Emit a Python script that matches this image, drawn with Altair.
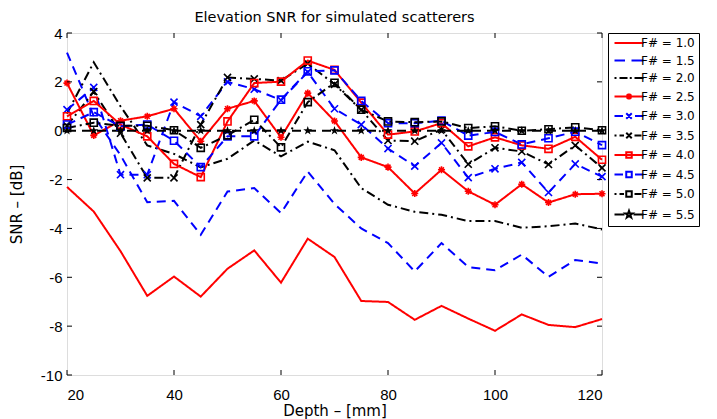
import altair as alt
import pandas as pd

# ---------------- data ----------------
depth = [20, 25, 30, 35, 40, 45, 50, 55, 60, 65, 70, 75, 80, 85, 90, 95, 100, 105, 110, 115, 120]

series_names = ["F# = 1.0", "F# = 1.5", "F# = 2.0", "F# = 2.5", "F# = 3.0",
                "F# = 3.5", "F# = 4.0", "F# = 4.5", "F# = 5.0", "F# = 5.5"]

snr_f10 = [-2.30, -3.31, -4.93, -6.76, -5.97, -6.79, -5.65, -4.90, -6.22, -4.42, -5.17,
           -6.97, -7.01, -7.74, -7.17, -7.69, -8.19, -7.52, -7.95, -8.04, -7.71]
snr_f15 = [3.20, 0.60, -1.00, -2.93, -2.87, -4.26, -2.49, -2.35, -3.37, -1.67, -3.00,
           -4.00, -4.60, -5.76, -4.60, -5.58, -5.71, -5.07, -5.98, -5.29, -5.44]
snr_f20 = [0.70, 2.80, 1.00, -0.60, -0.95, -1.50, -1.15, -0.40, -1.05, -0.45, -0.80,
           -2.35, -3.03, -3.32, -3.44, -3.70, -3.70, -3.97, -3.91, -3.80, -4.04]
snr_f25 = [1.95, -0.19, 0.41, 0.59, 0.90, -0.43, 0.90, 1.22, -0.27, 1.54, 0.40,
           -1.09, -1.49, -2.57, -1.60, -2.48, -3.03, -2.19, -2.94, -2.60, -2.58]
snr_f30 = [0.86, 1.77, -1.80, -1.80, 1.17, 0.59, 2.00, 1.70, 1.25, 2.40, 0.90,
           0.25, -0.73, -1.45, -0.50, -1.92, -1.56, -1.30, -2.53, -1.36, -1.88]
snr_f35 = [0.20, 1.60, -0.10, -1.93, -1.93, 0.25, 2.18, 2.12, 2.05, 2.75, 1.90,
           0.85, -0.40, -0.43, 0.05, -1.37, -0.70, -0.85, -1.38, -0.60, -1.52]
snr_f40 = [0.59, 1.22, 0.25, -0.23, -1.36, -1.90, 0.38, 1.95, 2.01, 2.87, 2.49,
           1.15, -0.16, -0.03, 0.31, -0.64, -0.27, -0.60, -0.74, -0.25, -1.19]
snr_f45 = [0.25, 0.76, 0.18, 0.25, -0.41, -1.49, -0.23, -0.23, 1.27, 2.43, 2.47,
           1.22, 0.31, 0.31, 0.41, -0.20, -0.05, -0.56, -0.31, -0.04, -0.59]
snr_f50 = [0.11, 0.33, 0.20, 0.20, 0.02, -0.70, -0.19, 0.45, -0.68, 1.17, 1.96,
           0.86, 0.38, 0.35, 0.38, 0.11, 0.18, 0.00, 0.06, 0.14, 0.02]
snr_f55 = [0.00, 0.00, 0.00, 0.00, 0.00, 0.00, 0.00, 0.00, 0.00, 0.00, 0.00,
           0.00, 0.00, 0.00, 0.00, 0.00, 0.00, 0.00, 0.00, 0.00, 0.00]

x_ticks = [20, 40, 60, 80, 100, 120]
y_ticks = [-10, -8, -6, -4, -2, 0, 2, 4]

all_series = [snr_f10, snr_f15, snr_f20, snr_f25, snr_f30,
              snr_f35, snr_f40, snr_f45, snr_f50, snr_f55]

# ---------------- styles ----------------
RED, BLUE, BLACK = "#ff0000", "#0000ff", "#000000"
line_colors = [RED, BLUE, BLACK, RED, BLUE, BLACK, RED, BLUE, BLACK, BLACK]
SOLID, DASH, DASHDOT = [1, 0], [9, 6], [9, 4, 2, 4]
line_dashes = [SOLID, DASH, DASHDOT, SOLID, DASH, DASHDOT, SOLID, DASH, DASHDOT, DASH]

P_AST = "M-1,0H1M0,-1V1M-0.7,-0.7L0.7,0.7M-0.7,0.7L0.7,-0.7"
P_X = "M-1,-1L1,1M-1,1L1,-1"
P_SQ = "M-1,-1H1V1H-1Z"
P_STAR = ("M0,-1L0.24,-0.33L0.95,-0.31L0.38,0.12L0.59,0.81L0,0.4"
          "L-0.59,0.81L-0.38,0.12L-0.95,-0.31L-0.24,-0.33Z")

marker_series = ["F# = 2.5", "F# = 3.0", "F# = 3.5", "F# = 4.0", "F# = 4.5", "F# = 5.0"]
marker_paths = [P_AST, P_X, P_X, P_SQ, P_SQ, P_SQ]

# legend symbols: line segments + marker; symbol size 100 -> 1 unit = 5 px
L_SOLID = "M-2.9,0H2.9"
L_DASH = "M-2.9,0H-0.8M0.5,0H2.9"
L_DASHDOT = "M-2.9,0H-2.5M-1.9,0H-0.3M0.15,0H0.55M1.1,0H2.9"
L_SOLID_M = "M-2.9,0H2.9"
L_DASH_M = "M-2.9,0H-1.2M1.2,0H2.9"
L_DASHDOT_M = "M-2.9,0H-2.5M-1.9,0H-1.0M1.1,0H2.5"
m_ast = "M-0.6,0H0.6M0,-0.6V0.6M-0.45,-0.45L0.45,0.45M-0.45,0.45L0.45,-0.45"
m_x = "M-0.55,-0.55L0.55,0.55M-0.55,0.55L0.55,-0.55"
m_sq = "M-0.55,-0.55H0.55V0.55H-0.55Z"
m_star = ("M0,-0.75L0.18,-0.25L0.71,-0.23L0.28,0.09L0.44,0.61L0,0.3"
          "L-0.44,0.61L-0.28,0.09L-0.71,-0.23L-0.18,-0.25Z")
legend_paths = [L_SOLID, L_DASH, L_DASHDOT,
                L_SOLID_M + m_ast, L_DASH_M + m_x, L_DASHDOT_M + m_x,
                L_SOLID_M + m_sq, L_DASH_M + m_sq, L_DASHDOT_M + m_sq,
                "M-2.9,0H-0.9M0.9,0H2.9" + m_star]

rows = []
for name, vals in zip(series_names, all_series):
    for d, v in zip(depth, vals):
        rows.append({"F": name, "depth": d, "snr": v})
df = pd.DataFrame(rows)

X0, X1, Y0, Y1 = 20, 120, -10, 4
W, H = 535, 342
xs = alt.Scale(domain=[X0, X1], nice=False, zero=False)
ys = alt.Scale(domain=[Y0, Y1], nice=False, zero=False)
FONT = "Liberation Sans"
TFONT = "DejaVu Sans"

x_enc = alt.X("depth:Q", scale=xs,
              axis=alt.Axis(values=x_ticks, ticks=False, domain=False, grid=False,
                            labelFontSize=15, labelPadding=12, labelFont=FONT,
                            labelColor="black", title="Depth – [mm]",
                            titleFontSize=15, titleFont=TFONT, titleFontWeight="normal",
                            titlePadding=1, titleColor="black"))
y_enc = alt.Y("snr:Q", scale=ys,
              axis=alt.Axis(values=y_ticks, ticks=False, domain=False, grid=False,
                            labelFontSize=15, labelPadding=5, labelFont=FONT,
                            labelColor="black",
                            labelExpr="datum.value < 0 ? '-' + abs(datum.value) : '' + datum.value",
                            title="SNR – [dB]", titleFontSize=15, titleFont=TFONT,
                            titleFontWeight="normal", titlePadding=16, titleColor="black"))

lines = alt.Chart(df).mark_line(strokeWidth=2).encode(
    x=x_enc, y=y_enc,
    color=alt.Color("F:N", scale=alt.Scale(domain=series_names, range=line_colors), legend=None),
    strokeDash=alt.StrokeDash("F:N", scale=alt.Scale(domain=series_names, range=line_dashes), legend=None),
    order=alt.Order("depth:Q"),
)

mk = alt.Chart(df).transform_filter(
    alt.FieldOneOfPredicate(field="F", oneOf=marker_series)
).mark_point(filled=False, size=50, strokeWidth=1.6, opacity=1).encode(
    x="depth:Q", y="snr:Q",
    color=alt.Color("F:N", scale=alt.Scale(domain=series_names, range=line_colors), legend=None),
    shape=alt.Shape("F:N", scale=alt.Scale(domain=marker_series, range=marker_paths), legend=None),
)

stars = alt.Chart(df).transform_filter(
    alt.datum.F == "F# = 5.5"
).mark_point(filled=True, size=90, opacity=1, shape=P_STAR, color="black").encode(
    x="depth:Q", y="snr:Q",
)

legend_layer = alt.Chart(df).mark_point(filled=False, opacity=0, strokeWidth=2).encode(
    x="depth:Q", y="snr:Q",
    stroke=alt.Stroke("F:N", scale=alt.Scale(domain=series_names, range=line_colors),
                      legend=alt.Legend(title=None, orient="right", offset=2,
                                        padding=4, strokeColor="black", fillColor="white",
                                        labelFontSize=12, labelFont=TFONT, labelColor="black",
                                        symbolSize=100, symbolStrokeWidth=2,
                                        symbolOffset=11, labelOffset=6,
                                        symbolOpacity=1, rowPadding=5.5)),
    shape=alt.Shape("F:N", scale=alt.Scale(domain=series_names, range=legend_paths)),
)

# inward tick marks (MATLAB style)
tx = 5 * (X1 - X0) / W
ty = 5 * (Y1 - Y0) / H
xt = pd.DataFrame({"v": x_ticks})
yt = pd.DataFrame({"v": y_ticks})
xt_b = alt.Chart(xt).transform_calculate(a=str(Y0), b=str(Y0 + ty)).mark_rule(color="black", strokeWidth=1).encode(
    x="v:Q", y="a:Q", y2="b:Q")
xt_t = alt.Chart(xt).transform_calculate(a=str(Y1), b=str(Y1 - ty)).mark_rule(color="black", strokeWidth=1).encode(
    x="v:Q", y="a:Q", y2="b:Q")
yt_l = alt.Chart(yt).transform_calculate(a=str(X0), b=str(X0 + tx)).mark_rule(color="black", strokeWidth=1).encode(
    y="v:Q", x="a:Q", x2="b:Q")
yt_r = alt.Chart(yt).transform_calculate(a=str(X1), b=str(X1 - tx)).mark_rule(color="black", strokeWidth=1).encode(
    y="v:Q", x="a:Q", x2="b:Q")

chart = alt.layer(lines, mk, stars, legend_layer, xt_b, xt_t, yt_l, yt_r).resolve_scale(
    color="independent", shape="independent", stroke="independent"
).properties(
    width=W, height=H,
    title=alt.TitleParams("Elevation SNR for simulated scatterers", fontSize=14.5, font=TFONT,
                          fontWeight="normal", color="black", offset=1),
    autosize=alt.AutoSizeParams(type="none"),
    padding={"left": 59, "top": 25, "right": 107, "bottom": 44},
).configure_view(stroke="black", strokeWidth=1.2).configure(background="white")

chart.save("out.html", embed_options={"renderer": "svg", "actions": False})
